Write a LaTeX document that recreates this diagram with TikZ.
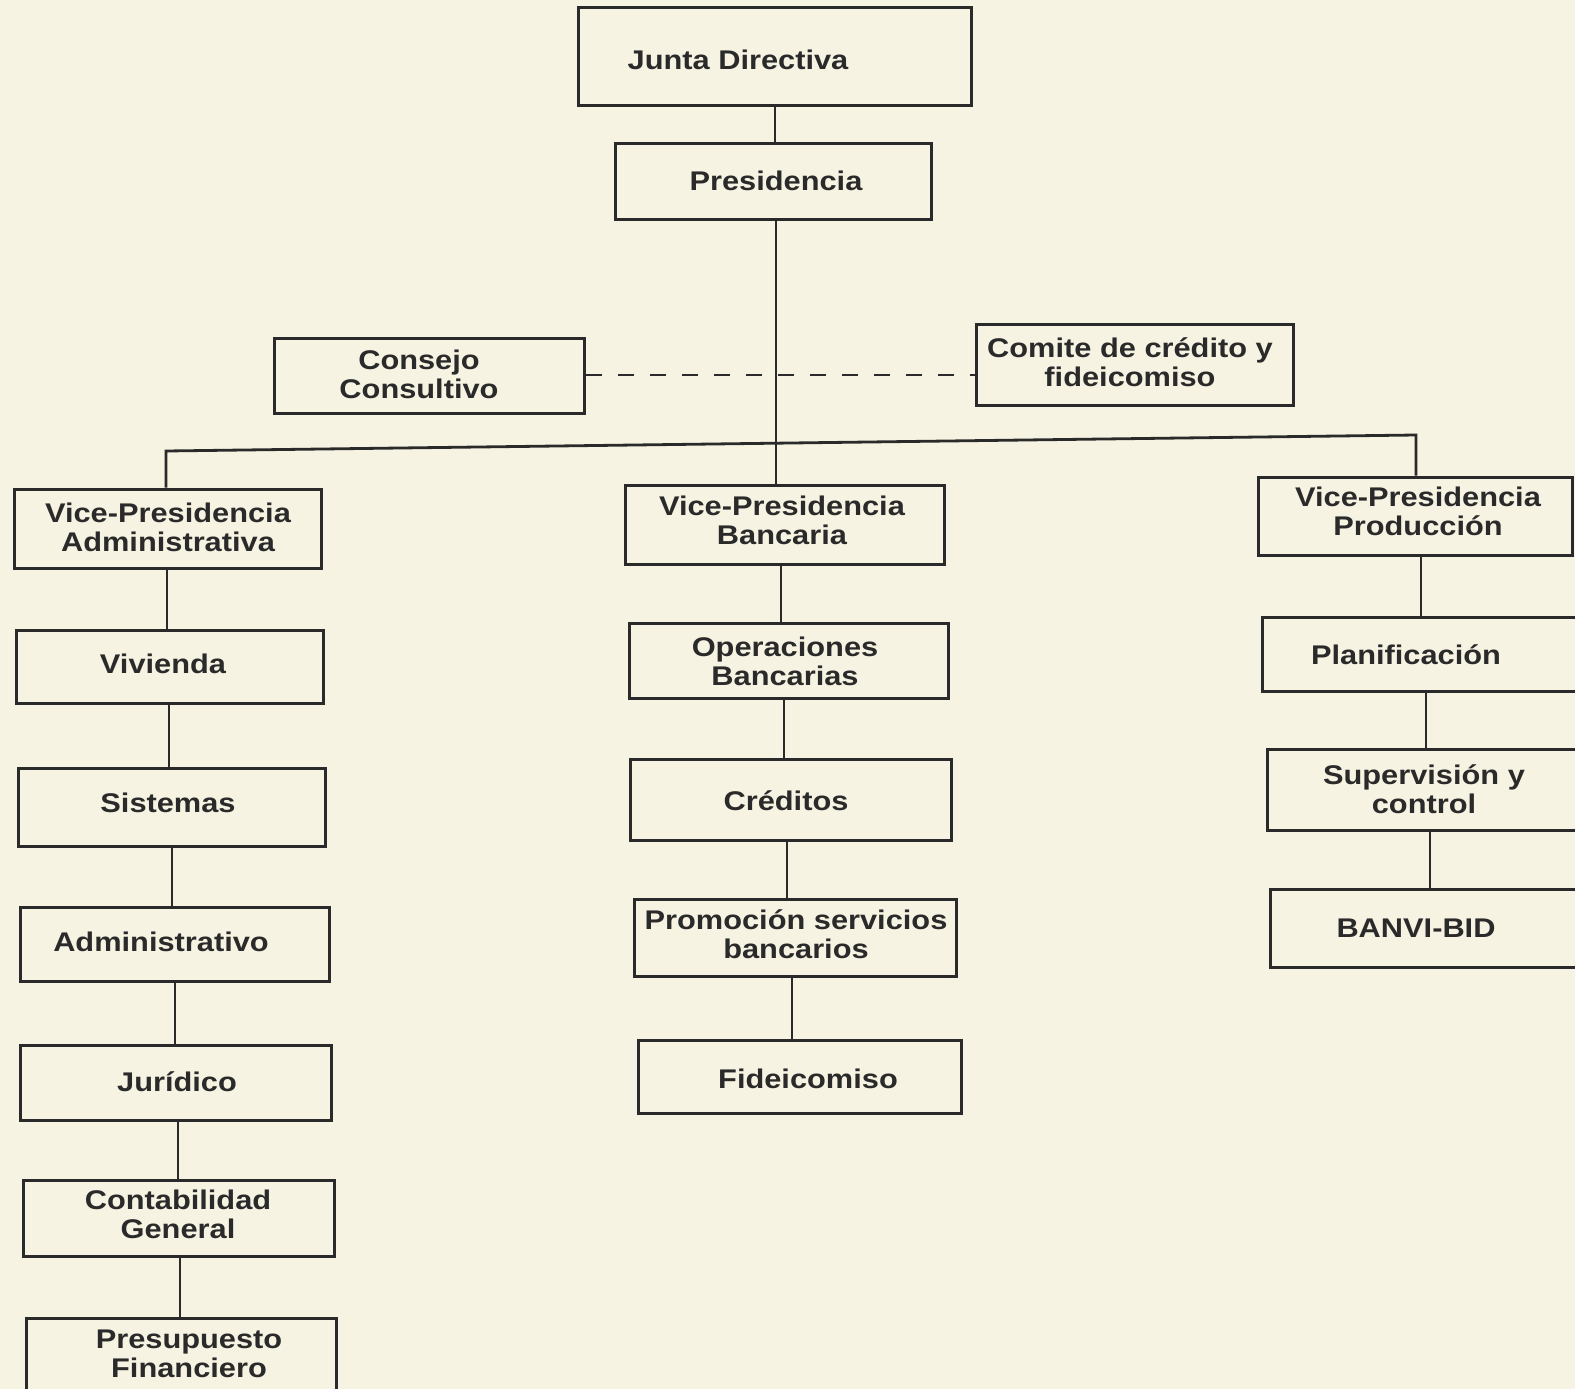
\documentclass[tikz,border=0pt]{standalone}
\usepackage{fontspec}
\newfontfamily\orgfont{Liberation Sans}[FakeStretch=1.14]
\usetikzlibrary{fit}
\definecolor{paper}{HTML}{F6F3E2}
\definecolor{ink}{HTML}{2A2A2A}
\begin{document}
\begin{tikzpicture}[x=1pt,y=-1pt,
  box/.style={draw=ink, line width=3pt, inner sep=0pt},
  lbl/.style={text=ink, font=\orgfont\bfseries\fontsize{27}{29}\selectfont, align=center, inner sep=0pt},
  conn/.style={draw=ink, line width=2.8pt},
  dashline/.style={draw=ink, line width=2.8pt, dash pattern=on 16pt off 16pt}]
\path[use as bounding box] (0,0) rectangle (1575,1389);
\clip (0,0) rectangle (1575,1389);
\fill[paper] (0,0) rectangle (1575,1389);

% top
\node[box, fit={(578,8) (971,105)}] (jd) {};
\node[lbl] (jdt) at (738,60) {Junta Directiva};
\node[box, fit={(615,143) (931,219)}] (pres) {};
\node[lbl] (prest) at (776,181) {Presidencia};
\node[box, fit={(274,338) (584,413)}] (cons) {};
\node[lbl] (const) at (419,374) {Consejo\\Consultivo};
\node[box, fit={(976,324) (1293,405)}] (com) {};
\node[lbl] (comt) at (1130,362) {Comite de crédito y\\fideicomiso};

% vice-presidencias
\node[box, fit={(14,489) (321,568)}] (vpa) {};
\node[lbl] (vpat) at (168,527) {Vice-Presidencia\\Administrativa};
\node[box, fit={(625,485) (944,564)}] (vpb) {};
\node[lbl] (vpbt) at (782,520) {Vice-Presidencia\\Bancaria};
\node[box, fit={(1258,477) (1572,555)}] (vpp) {};
\node[lbl] (vppt) at (1418,511) {Vice-Presidencia\\Producción};

% left column
\node[box, fit={(16,630) (323,703)}] (viv) {};
\node[lbl] (vivt) at (163,664) {Vivienda};
\node[box, fit={(18,768) (325,846)}] (sis) {};
\node[lbl] (sist) at (168,803) {Sistemas};
\node[box, fit={(20,907) (329,981)}] (adm) {};
\node[lbl] (admt) at (161,942) {Administrativo};
\node[box, fit={(20,1045) (331,1120)}] (jur) {};
\node[lbl] (jurt) at (177,1082) {Jurídico};
\node[box, fit={(23,1180) (334,1256)}] (con) {};
\node[lbl] (cont) at (178,1214) {Contabilidad\\General};
\node[box, fit={(26,1318) (336,1420)}] (pre) {};
\node[lbl] (pret) at (189,1354) {Presupuesto\\Financiero};

% middle column
\node[box, fit={(629,623) (948,698)}] (ops) {};
\node[lbl] (opst) at (785,661) {Operaciones\\Bancarias};
\node[box, fit={(630,759) (951,840)}] (cre) {};
\node[lbl] (cret) at (786,801) {Créditos};
\node[box, fit={(634,899) (956,976)}] (pro) {};
\node[lbl] (prot) at (796,934) {Promoción servicios\\bancarios};
\node[box, fit={(638,1040) (961,1113)}] (fid) {};
\node[lbl] (fidt) at (808,1079) {Fideicomiso};

% right column
\node[box, fit={(1262,617) (1600,691)}] (pla) {};
\node[lbl] (plat) at (1406,655) {Planificación};
\node[box, fit={(1267,749) (1600,830)}] (sup) {};
\node[lbl] (supt) at (1424,789) {Supervisión y\\control};
\node[box, fit={(1270,889) (1600,967)}] (ban) {};
\node[lbl] (bant) at (1416,928) {BANVI-BID};

% connectors
\draw[conn] (jd.south -| 775,0) -- (pres.north -| 775,0);
\draw[conn] (pres.south -| 776,0) -- (vpb.north -| 776,0);
\draw[dashline] (cons.east |- 0,375) -- (com.west |- 0,375);
\coordinate (bl) at (166,451);
\coordinate (br) at (1416,435);
\draw[conn] (vpa.north -| bl) -- (bl) -- (br) -- (vpp.north -| br);

\draw[conn] (vpa.south -| 167,0) -- (viv.north -| 167,0);
\draw[conn] (viv.south -| 169,0) -- (sis.north -| 169,0);
\draw[conn] (sis.south -| 172,0) -- (adm.north -| 172,0);
\draw[conn] (adm.south -| 175,0) -- (jur.north -| 175,0);
\draw[conn] (jur.south -| 178,0) -- (con.north -| 178,0);
\draw[conn] (con.south -| 180,0) -- (pre.north -| 180,0);

\draw[conn] (vpb.south -| 781,0) -- (ops.north -| 781,0);
\draw[conn] (ops.south -| 784,0) -- (cre.north -| 784,0);
\draw[conn] (cre.south -| 787,0) -- (pro.north -| 787,0);
\draw[conn] (pro.south -| 792,0) -- (fid.north -| 792,0);

\draw[conn] (vpp.south -| 1421,0) -- (pla.north -| 1421,0);
\draw[conn] (pla.south -| 1426,0) -- (sup.north -| 1426,0);
\draw[conn] (sup.south -| 1430,0) -- (ban.north -| 1430,0);
\end{tikzpicture}
\end{document}
